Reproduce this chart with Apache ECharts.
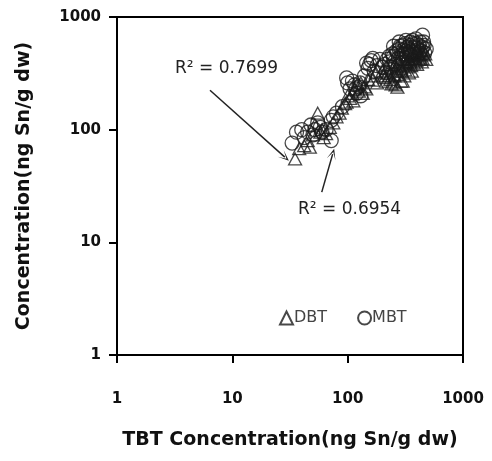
<!DOCTYPE html>
<html><head><meta charset="utf-8">
<script src="https://cdn.jsdelivr.net/npm/echarts@6/dist/echarts.min.js"></script>
<style>html,body{margin:0;padding:0;background:#fff}#c{width:492px;height:461px}</style>
</head><body><div id="c"></div>
<script>
const xTicks = [1, 10, 100, 1000];
const yTicks = [1, 10, 100, 1000];
const dbtData = [
 [35,55],[38,68],[42,72],[45,80],[47,70],[50,90],[52,110],[55,140],[58,95],[60,100],
 [62,85],[65,92],[70,105],[75,115],[80,130],[85,140],[89,155],[95,170],[98,176],[100,200],
 [105,190],[110,210],[115,230],[120,250],[125,220],[130,260],[140,240],[150,280],[160,300],[165,275],
 [175,320],[180,260],[200,330],[210,290],[220,350],[230,300],[240,380],[250,260],[260,330],[270,238],
 [280,400],[290,350],[300,270],[310,420],[320,380],[330,450],[340,320],[350,400],[360,480],[380,430],
 [400,380],[420,460],[440,400],[460,500],[480,420],
 [205,300],[215,270],[225,320],[235,280],[245,340],[255,300],[265,360],[275,310],[285,370],[295,330],
 [305,390],[315,340],[325,400],[335,360],[345,420],[355,370],[365,430],[375,390],[385,450],[395,410],
 [405,470],[415,420],[425,440],[435,480],[445,430],[455,460],[470,470],[290,270],[260,250],[240,255],
 [310,300],[360,330],[135,210],[145,230],[112,180]
];
const mbtData = [
 [36,95],[33,76],[40,100],[42,85],[45,95],[48,110],[50,90],[52,100],[55,115],[58,105],
 [60,95],[65,100],[72,80],[72,121],[75,130],[80,140],[90,160],[98,288],[100,260],[105,230],
 [110,270],[115,250],[120,210],[125,240],[130,200],[140,300],[146,390],[150,350],[160,410],[170,330],
 [180,370],[190,420],[200,360],[215,320],[230,400],[250,450],[260,380],[270,480],[280,520],[290,430],
 [300,560],[310,470],[320,500],[330,540],[350,460],[370,580],[380,500],[400,530],[420,480],[446,690],
 [460,560],[480,520],[350,600],[300,420],
 [210,380],[220,420],[235,360],[245,470],[255,400],[265,500],[275,430],[285,550],[295,470],[305,510],
 [315,580],[325,460],[335,520],[345,560],[355,500],[365,620],[375,540],[385,470],[395,580],[405,510],
 [415,560],[425,600],[435,500],[445,540],[455,600],[465,480],[320,620],[280,600],[250,550],[230,450],
 [340,480],[390,640],[118,230],[128,260],[155,380],[165,430]
];
const arrow1 = [[6.4,224],[28.5,57]];
const arrow2 = [[59.6,27.9],[74.1,60.7]];
const r2Labels = ['R² = 0.7699', 'R² = 0.6954'];

const chart = echarts.init(document.getElementById('c'));
const axisCommon = {
  type: 'log', logBase: 10, min: 1, max: 1000,
  axisLine: {show: true, onZero: false, lineStyle: {color: '#000', width: 2}},
  axisTick: {show: true, length: 8, inside: false, lineStyle: {color: '#000', width: 2}},
  splitLine: {show: false},
  minorTick: {show: false},
  axisLabel: {color: '#111', fontFamily: 'DejaVu Sans', fontWeight: 'bold', fontSize: 15,
    formatter: function (v) { return String(Math.round(v)); }},
  nameTextStyle: {color: '#111', fontFamily: 'DejaVu Sans', fontWeight: 'bold', fontSize: 19}
};
const arrowSym = 'path://M0,10 L5,0 L10,10 L5,3 Z';
chart.setOption({
  animation: false,
  backgroundColor: '#fff',
  grid: {left: 117, right: 29, top: 17, bottom: 106, show: true, borderColor: '#000', borderWidth: 2},
  xAxis: Object.assign({}, axisCommon, {
    name: 'TBT Concentration(ng Sn/g dw)', nameLocation: 'middle', nameGap: 76,
    axisLabel: Object.assign({}, axisCommon.axisLabel, {margin: 37})
  }),
  yAxis: Object.assign({}, axisCommon, {
    name: 'Concentration(ng Sn/g dw)', nameLocation: 'middle', nameGap: 83,
    axisLabel: Object.assign({}, axisCommon.axisLabel, {margin: 16})
  }),
  legend: {
    left: 274, top: 305, itemGap: 30, itemWidth: 13, itemHeight: 13,
    textStyle: {fontFamily: 'DejaVu Sans', fontSize: 16, color: '#444', padding: [0,0,0,-4]},
    data: [{name: 'DBT', icon: 'triangle'}, {name: 'MBT', icon: 'circle'}]
  },
  graphic: [
    {type: 'text', left: 175, top: 60, style: {text: r2Labels[0], font: '17px "DejaVu Sans"', fill: '#222'}},
    {type: 'text', left: 298, top: 201, style: {text: r2Labels[1], font: '17px "DejaVu Sans"', fill: '#222'}}
  ],
  series: [
    {name: 'DBT', type: 'scatter', symbol: 'triangle', symbolSize: [13, 12], data: dbtData,
     itemStyle: {color: 'rgba(255,255,255,0)', borderColor: '#1a1a1a', borderWidth: 1.3},
     markLine: {silent: true, symbol: ['none', arrowSym], symbolSize: [9, 11],
       lineStyle: {color: '#222', width: 1.5, type: 'solid'}, label: {show: false},
       data: [[{coord: arrow1[0]}, {coord: arrow1[1]}], [{coord: arrow2[0]}, {coord: arrow2[1]}]]}},
    {name: 'MBT', type: 'scatter', symbol: 'circle', symbolSize: 14, data: mbtData,
     itemStyle: {color: 'rgba(255,255,255,0)', borderColor: '#1a1a1a', borderWidth: 1.3}}
  ]
});
</script></body></html>
